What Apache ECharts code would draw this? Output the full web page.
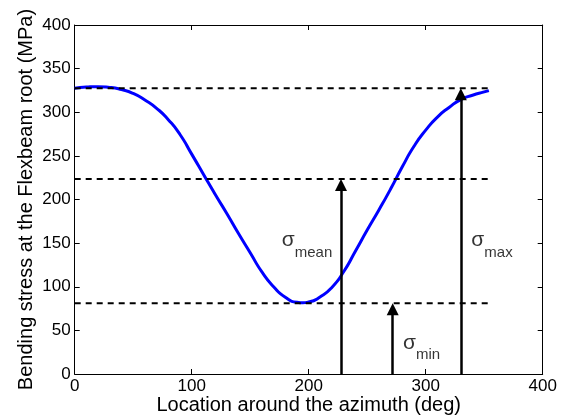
<!DOCTYPE html>
<html>
<head>
<meta charset="utf-8">
<script src="https://cdn.jsdelivr.net/npm/echarts@6/dist/echarts.min.js"></script>
<style>
html,body{margin:0;padding:0;background:#fff;}
#chart{width:568px;height:419px;}
</style>
</head>
<body>
<div id="chart"></div>
<script>
// ---- data ----
const azimuth = [0,10,20,30,40,50,60,70,80,90,100,110,120,130,140,150,160,170,180,190,195,200,210,220,230,240,250,260,270,280,290,300,310,320,330,340,350,354];
const stress  = [327.4,328.8,329.3,328.5,326,321.5,314,304.5,291.5,274.5,252,229,206,184,161,139,117,100,88,82.2,81.7,82.5,88.5,99.5,117.5,141,165,188,212,237.5,261,279.5,294.5,305.5,314.5,319.5,323.3,324.8];
const levelNames = ['max','mean','min'];
const levelValues = [327.5, 223.5, 81];
const arrowAzimuth = [330, 227.6, 271.8];
const levelLineEnd = 354;
const xTicks = [0,100,200,300,400];
const yTicks = [0,50,100,150,200,250,300,350,400];

const FONT = 'Liberation Sans, Arial, sans-serif';

const GRID = { left: 74.7, right: 25.3, top: 25, bottom: 45, containLabel: false, outerBoundsMode: 'none' };
const plotH = 419 - GRID.top - GRID.bottom;
const ARROW = [10, 12];                       // arrowhead width, length (px)
const tipOffset = (ARROW[1] / 2) * 400 / plotH; // so the arrow tip lands on the level

const labelAnchors = { max: [339, 153], mean: [177, 153], min: [280.6, 35.5] };

const series = [];
series.push({
  type: 'line', data: azimuth.map((x,i)=>[x, stress[i]]),
  showSymbol: false, smooth: 0.6, z: 3,
  lineStyle: { color: '#0000ff', width: 3 }
});
levelValues.forEach((v)=>{
  series.push({
    type: 'line', data: [[0, v], [levelLineEnd, v]], showSymbol: false, z: 4,
    lineStyle: { color: '#000', width: 2, type: [6,5] }
  });
});
series.push({
  type: 'lines', coordinateSystem: 'cartesian2d', z: 5,
  symbol: ['none', 'triangle'], symbolSize: ARROW,
  lineStyle: { color: '#000', width: 2.5, opacity: 1 },
  data: levelNames.map((n,i)=>({ coords: [[arrowAzimuth[i], 0], [arrowAzimuth[i], levelValues[i] - tipOffset]] }))
});
series.push({
  type: 'scatter', symbolSize: 0, z: 6,
  data: levelNames.map(n=>({ value: labelAnchors[n], name: n })),
  label: {
    show: true, position: 'right', distance: 0,
    formatter: p => '{a|σ}{b|' + p.name + '}',
    rich: {
      a: { fontFamily: FONT, fontSize: 21, lineHeight: 20, color: '#000' },
      b: { fontFamily: FONT, fontSize: 15, lineHeight: 15, color: '#000', padding: [24,0,0,0] }
    }
  }
});

const axisCommon = {
  min: 0, max: 400, type: 'value',
  axisLine: { show: true, onZero: false, lineStyle: { color: '#000', width: 1 } },
  axisTick: { show: true, inside: true, length: 5, lineStyle: { color: '#000' } },
  splitLine: { show: false }
};

const option = {
  animation: false,
  backgroundColor: '#fff',
  grid: GRID,
  xAxis: [
    Object.assign({}, axisCommon, {
      position: 'bottom', interval: 100,
      axisLabel: { fontFamily: FONT, fontSize: 17, color: '#000', margin: 4, formatter: v => xTicks.includes(v) ? String(v) : '' },
      name: 'Location around the azimuth (deg)', nameLocation: 'middle', nameGap: 21, nameMoveOverlap: false,
      nameTextStyle: { fontFamily: FONT, fontSize: 20, color: '#000' }
    }),
    Object.assign({}, axisCommon, { position: 'top', interval: 100, axisLabel: { show: false } })
  ],
  yAxis: [
    Object.assign({}, axisCommon, {
      position: 'left', interval: 50,
      axisLabel: { fontFamily: FONT, fontSize: 17, color: '#000', margin: 4, formatter: v => yTicks.includes(v) ? String(v) : '' },
      name: 'Bending stress at the Flexbeam root (MPa)', nameLocation: 'middle', nameGap: 38, nameMoveOverlap: false,
      nameTextStyle: { fontFamily: FONT, fontSize: 20, color: '#000' }
    }),
    Object.assign({}, axisCommon, { position: 'right', interval: 50, axisLabel: { show: false } })
  ],
  series: series
};

const chart = echarts.init(document.getElementById('chart'), null, { renderer: 'canvas' });
chart.setOption(option);
</script>
</body>
</html>
